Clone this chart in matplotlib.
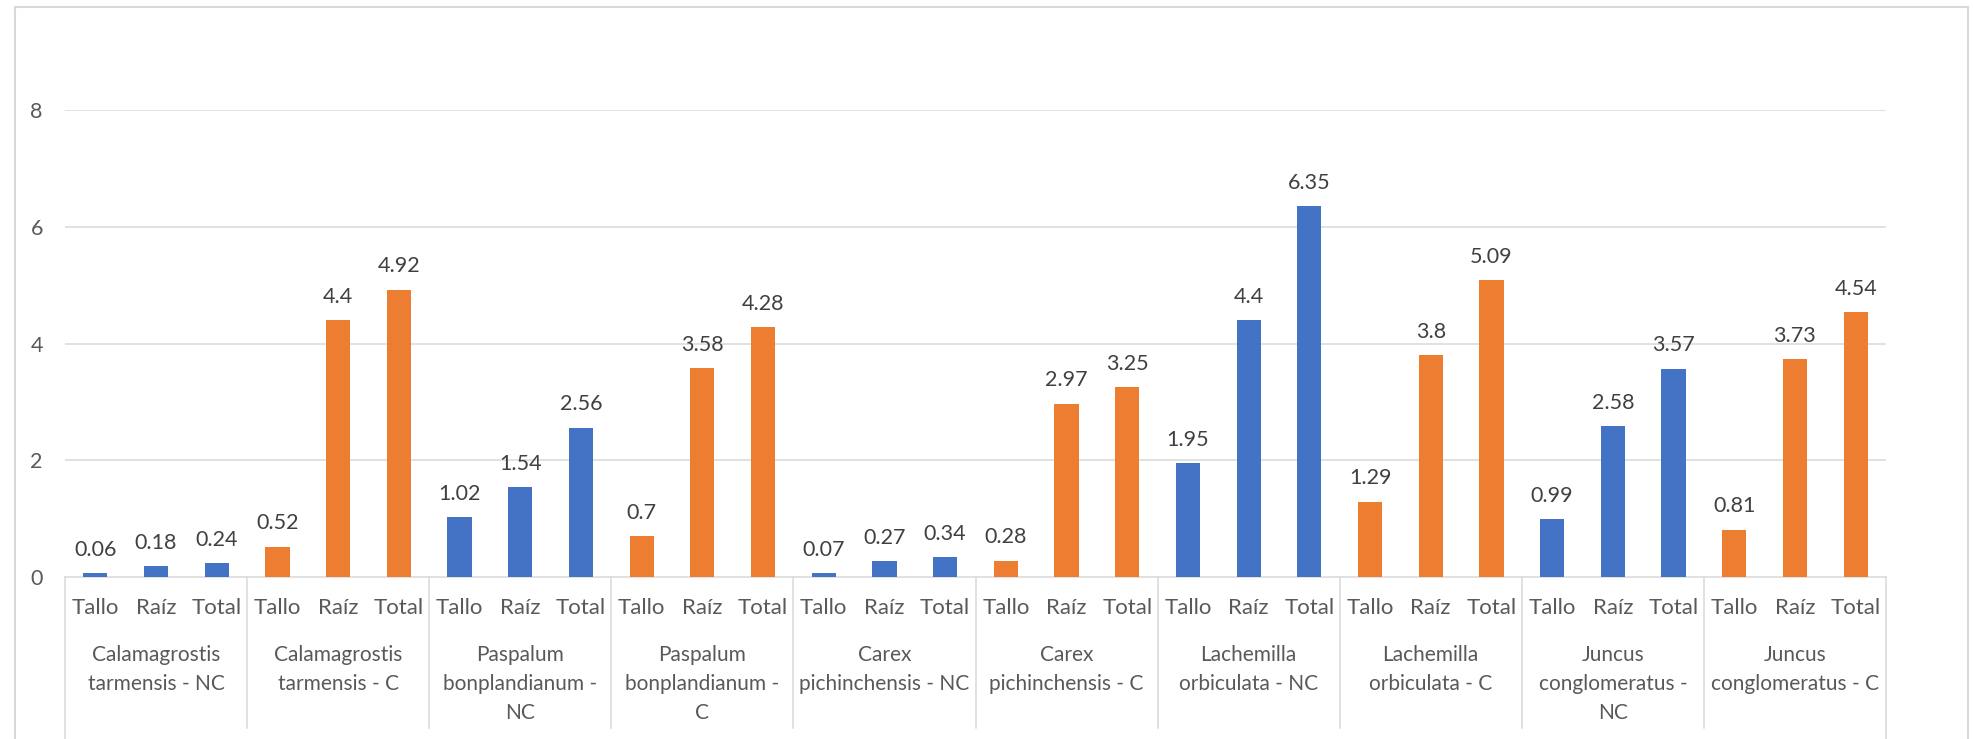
import matplotlib
matplotlib.use("Agg")
import matplotlib.pyplot as plt
import matplotlib.transforms as mtransforms
from matplotlib.lines import Line2D
import numpy as np

plt.rcParams["font.family"] = ["Lato", "DejaVu Sans"]

W, H = 1973, 739
DPI = 100

# data
groups = [
    "Calamagrostis\ntarmensis - NC",
    "Calamagrostis\ntarmensis - C",
    "Paspalum\nbonplandianum -\nNC",
    "Paspalum\nbonplandianum -\nC",
    "Carex\npichinchensis - NC",
    "Carex\npichinchensis - C",
    "Lachemilla\norbiculata - NC",
    "Lachemilla\norbiculata - C",
    "Juncus\nconglomeratus -\nNC",
    "Juncus\nconglomeratus - C",
]
parts = ["Tallo", "Raíz", "Total"]
tallo = [0.06, 0.52, 1.02, 0.7, 0.07, 0.28, 1.95, 1.29, 0.99, 0.81]
raiz = [0.18, 4.4, 1.54, 3.58, 0.27, 2.97, 4.4, 3.8, 2.58, 3.73]
total = [0.24, 4.92, 2.56, 4.28, 0.34, 3.25, 6.35, 5.09, 3.57, 4.54]

BLUE = "#4472C4"
ORANGE = "#ED7D31"
GRID = "#D9D9D9"
LABEL = "#595959"
VALUE = "#404040"


def px_x(p):
    return p / W


def px_y(p):
    return 1 - p / H


fig = plt.figure(figsize=(W / DPI, H / DPI), dpi=DPI)
ax = fig.add_axes([px_x(65), px_y(577), px_x(1886) - px_x(65), px_y(110) - px_y(577)])

# outer chart border (no bottom edge, it runs off the picture)
for xs, ys in [([15, 15], [739, 7]), ([15, 1968], [7, 7]), ([1968, 1968], [7, 739])]:
    fig.add_artist(Line2D([px_x(v) for v in xs], [px_y(v) for v in ys],
                          color=GRID, lw=1.5, transform=fig.transFigure))

values = np.array([tallo, raiz, total]).T.flatten()
colors = []
for i in range(len(groups)):
    colors += [BLUE if i % 2 == 0 else ORANGE] * 3
x = np.arange(len(values))

bars = ax.bar(x, values, width=0.4, color=colors, zorder=3)
for xi, v in zip(x, values):
    ax.annotate("{:g}".format(v), (xi, v), xytext=(0, 12.5), textcoords="offset points",
                ha="center", va="baseline", fontsize=15.5, color=VALUE)

ax.set_xlim(-0.5, len(values) - 0.5)
ax.set_ylim(0, 8)
ax.set_yticks([0, 2, 4, 6, 8])
ax.tick_params(axis="y", length=0, pad=16, labelsize=15.5, labelcolor=LABEL)
ax.set_xticks([])
for yv in [2, 4, 6, 8]:
    ax.axhline(yv, color=GRID, lw=1.1, zorder=1)
for s in ["top", "right", "left"]:
    ax.spines[s].set_visible(False)
ax.spines["bottom"].set_color(GRID)
ax.spines["bottom"].set_linewidth(1.1)

# multi-level category axis
trans = mtransforms.blended_transform_factory(ax.transData, ax.transAxes)
axh = 577 - 110


def ay(p):
    # pixel row -> axes fraction
    return (577 - p) / axh


for xi in x:
    ax.text(xi, ay(608.5), parts[xi % 3], transform=trans, ha="center", va="center",
            fontsize=16, color=LABEL, clip_on=False)

for gi, g in enumerate(groups):
    cx = gi * 3 + 1
    for li, line in enumerate(g.split("\n")):
        ax.text(cx, ay(655 + 29 * li), line, transform=trans, ha="center", va="center",
                fontsize=15, color=LABEL, clip_on=False)

for k in range(len(groups) + 1):
    bottom = 739 if k in (0, len(groups)) else 728
    ax.add_line(Line2D([3 * k - 0.5, 3 * k - 0.5], [0, ay(bottom)], transform=trans,
                       color=GRID, lw=1.1, clip_on=False))

fig.savefig("out.png", dpi=DPI)
